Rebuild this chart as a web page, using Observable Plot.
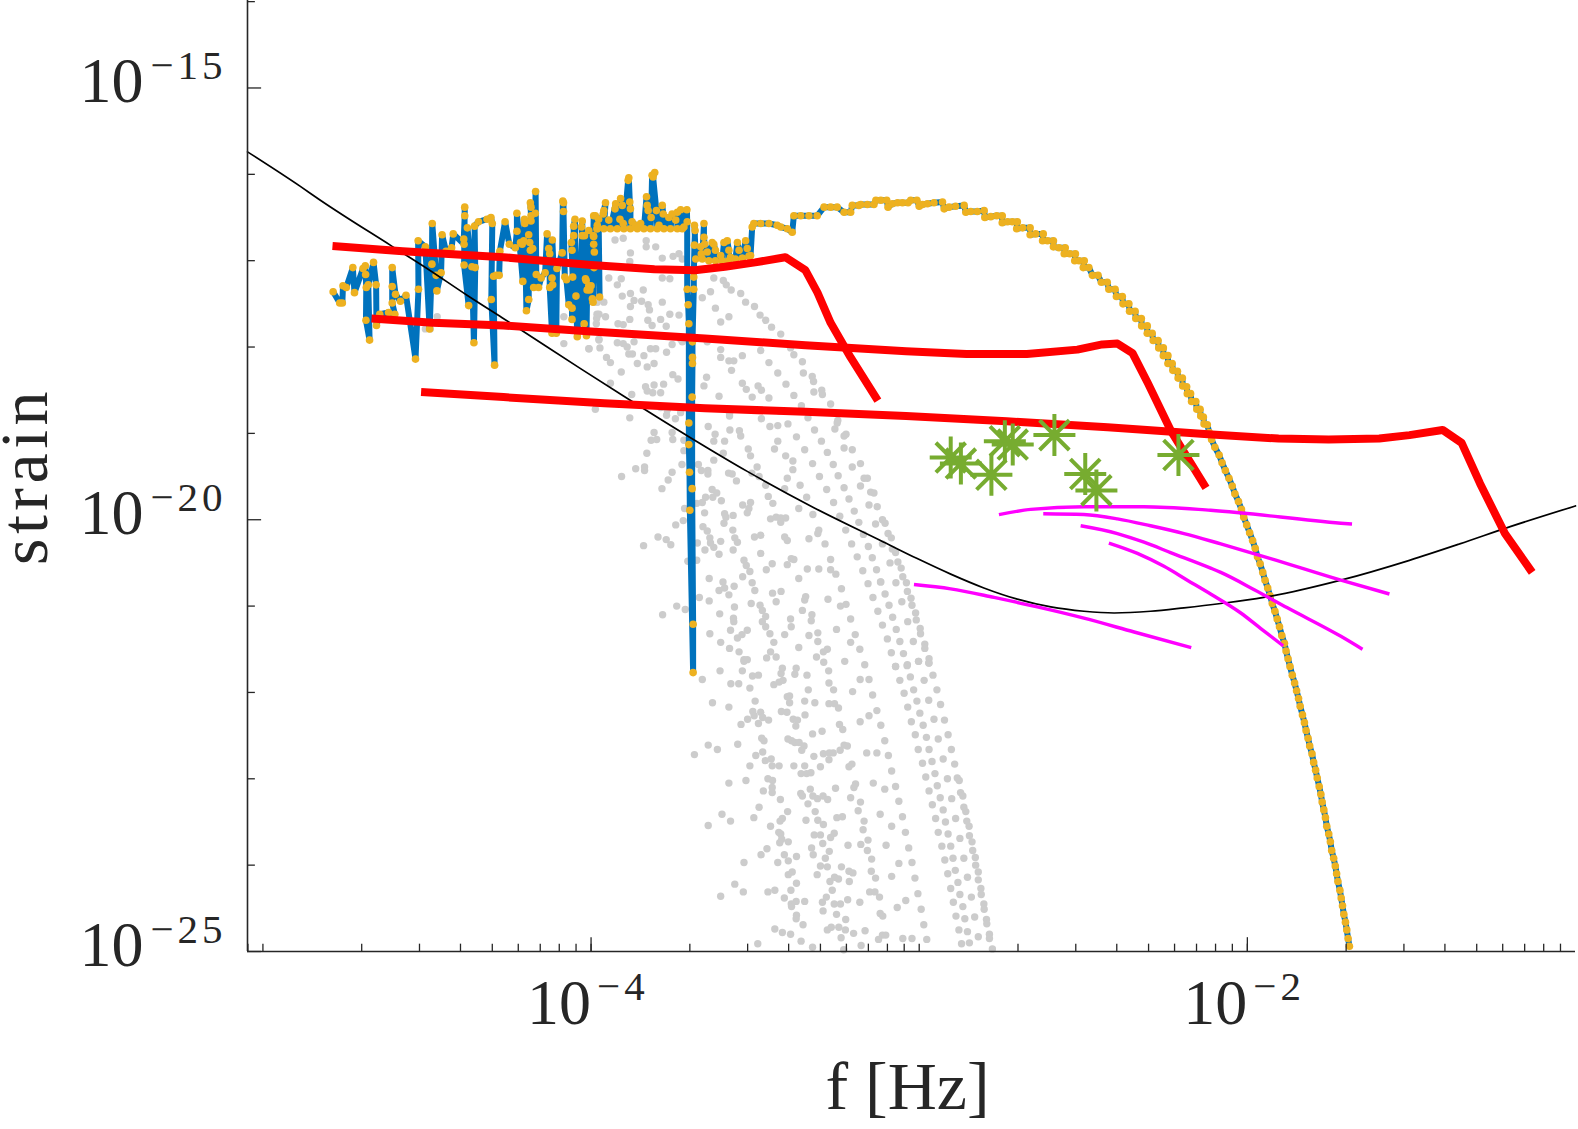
<!DOCTYPE html>
<html lang="en">
<head>
<meta charset="UTF-8">
<title>strain vs frequency</title>
<script src="https://d3js.org/d3.v7.min.js"></script>
<script src="https://cdn.jsdelivr.net/npm/@observablehq/plot@0.6"></script>
<style>
  html, body { margin: 0; background: #fff; overflow: hidden; }
  svg { display: block; }
  svg text { font-family: "Liberation Serif", "Times New Roman", serif !important; }
  .exponent { letter-spacing: 4px; }
  .ylabel { letter-spacing: 4.5px; }
</style>
</head>
<body>
<div id="chart"></div>
<script>
// all values are log10(f [Hz]), log10(strain)
const xDomainLog = [-5.047, -1];
const yDomainLog = [-25, -13.987];
const xLabelled = [-4, -2];
const yLabelled = [-15, -20, -25];
const yMinorLog = [-14, -16, -17, -18, -19, -21, -22, -23, -24];
const xMinorMantissa = [1, 2, 3, 4, 5, 6, 7, 8, 9];
const xMinorDecades = [-6, -5, -4, -3, -2];
const xAxisTitle = "f [Hz]";
const yAxisTitle = "strain";

const blackCurve = [[-5.047,-15.74],[-4.886,-16.14],[-4.825,-16.3],[-4.612,-16.82],[-4.5,-17.09],[-4.378,-17.4],[-4.271,-17.66],[-4.226,-17.77],[-4.032,-18.25],[-3.9,-18.57],[-3.697,-19.05],[-3.524,-19.44],[-3.321,-19.86],[-3.118,-20.24],[-3.006,-20.45],[-2.904,-20.63],[-2.803,-20.79],[-2.701,-20.92],[-2.599,-21.01],[-2.498,-21.06],[-2.406,-21.08],[-2.295,-21.06],[-2.193,-21.02],[-2.081,-20.97],[-1.95,-20.9],[-1.715,-20.7],[-1.506,-20.47],[-1.353,-20.28],[-1.199,-20.08],[-1,-19.84]];

const redTrackA = [[-4.788,-16.83],[-4.574,-16.89],[-4.267,-16.96],[-4,-17.05],[-3.807,-17.1],[-3.684,-17.11],[-3.592,-17.07],[-3.5,-17.02],[-3.408,-16.96],[-3.347,-17.11],[-3.31,-17.37],[-3.27,-17.72],[-3.209,-18.12],[-3.126,-18.62]];
const redTrackB = [[-4.669,-17.67],[-4.482,-17.72],[-4.267,-17.75],[-4,-17.82],[-3.653,-17.9],[-3.347,-17.98],[-3.04,-18.05],[-2.856,-18.08],[-2.672,-18.08],[-2.518,-18.03],[-2.442,-17.97],[-2.396,-17.96],[-2.35,-18.07],[-2.303,-18.42],[-2.233,-18.97],[-2.126,-19.63]];
const redTrackC = [[-4.518,-18.52],[-4.267,-18.58],[-3.96,-18.65],[-3.653,-18.71],[-3.347,-18.75],[-3.04,-18.8],[-2.733,-18.86],[-2.426,-18.93],[-2.12,-19.01],[-1.905,-19.06],[-1.752,-19.07],[-1.598,-19.06],[-1.506,-19.02],[-1.405,-18.96],[-1.347,-19.11],[-1.291,-19.58],[-1.215,-20.16],[-1.132,-20.61]];

const magentaA = [[-3.016,-20.75],[-2.904,-20.8],[-2.772,-20.9],[-2.64,-21.01],[-2.498,-21.14],[-2.345,-21.3],[-2.171,-21.48]];
const magentaB = [[-2.757,-19.94],[-2.66,-19.88],[-2.498,-19.85],[-2.315,-19.85],[-2.112,-19.89],[-1.715,-20.04],[-1.681,-20.05]];
const magentaC = [[-2.622,-19.93],[-2.498,-19.94],[-2.396,-19.99],[-2.295,-20.07],[-2.193,-20.16],[-2.081,-20.28],[-1.929,-20.45],[-1.715,-20.7],[-1.567,-20.86]];
const magentaD = [[-2.508,-20.07],[-2.396,-20.16],[-2.315,-20.26],[-2.234,-20.38],[-2.112,-20.56],[-2.081,-20.61],[-1.979,-20.81],[-1.878,-21.02],[-1.715,-21.35],[-1.649,-21.5]];
const magentaE = [[-2.422,-20.27],[-2.335,-20.39],[-2.254,-20.54],[-2.183,-20.7],[-2.112,-20.86],[-2.02,-21.08],[-1.959,-21.26],[-1.891,-21.46]];

const greenStars = [[-2.904,-19.28],[-2.873,-19.35],[-2.78,-19.48],[-2.739,-19.09],[-2.715,-19.13],[-2.588,-19.02],[-2.494,-19.47],[-2.46,-19.66],[-2.21,-19.25]];

const noisyLow = [[-4.786,-17.36],[-4.766,-17.49],[-4.758,-17.49],[-4.756,-17.29],[-4.746,-17.31],[-4.726,-17.08],[-4.721,-17.37],[-4.695,-17.09],[-4.688,-17.06],[-4.687,-17.16],[-4.685,-17.31],[-4.686,-17.69],[-4.675,-17.92],[-4.679,-17.28],[-4.663,-17.02],[-4.655,-17.28],[-4.654,-17.75],[-4.644,-17.62],[-4.617,-17.6],[-4.598,-17.62],[-4.606,-17.49],[-4.606,-17.3],[-4.606,-17.08],[-4.596,-17.39],[-4.581,-17.47],[-4.564,-17.4],[-4.535,-18.14],[-4.526,-17.33],[-4.527,-16.77],[-4.505,-16.84],[-4.492,-17.79],[-4.485,-17.04],[-4.484,-16.57],[-4.472,-17.17],[-4.47,-17.35],[-4.457,-17.14],[-4.454,-16.7],[-4.442,-16.89],[-4.425,-16.85],[-4.42,-16.69],[-4.387,-16.81],[-4.388,-16.75],[-4.385,-16.48],[-4.385,-16.38],[-4.387,-17.05],[-4.373,-17.52],[-4.377,-16.62],[-4.363,-17.07],[-4.357,-17.95],[-4.353,-17.08],[-4.355,-16.6],[-4.343,-16.55],[-4.317,-16.52],[-4.305,-16.5],[-4.301,-16.57],[-4.304,-17.45],[-4.294,-18.21],[-4.297,-17.18],[-4.289,-17.17],[-4.28,-17.17],[-4.278,-16.89],[-4.262,-16.55],[-4.249,-16.81],[-4.231,-16.85],[-4.226,-16.66],[-4.226,-16.45],[-4.208,-17.24],[-4.215,-16.79],[-4.21,-16.81],[-4.205,-16.77],[-4.203,-16.52],[-4.202,-16.57],[-4.197,-17.58],[-4.19,-17.45],[-4.19,-16.7],[-4.187,-16.79],[-4.185,-16.88],[-4.183,-16.54],[-4.183,-16.48],[-4.185,-16.33],[-4.183,-16.38],[-4.178,-16.86],[-4.175,-17.31],[-4.17,-16.45],[-4.169,-16.2],[-4.167,-17.16],[-4.16,-17.31],[-4.152,-17.2],[-4.14,-17.14],[-4.134,-16.69],[-4.129,-16.86],[-4.126,-16.92],[-4.126,-17.31],[-4.119,-17.84],[-4.117,-17.28],[-4.119,-17.2],[-4.118,-16.76],[-4.106,-17.84],[-4.104,-17.09],[-4.088,-16.91],[-4.086,-16.31],[-4.084,-16.33],[-4.084,-16.43],[-4.08,-17.19],[-4.075,-17.22],[-4.068,-17.51],[-4.058,-17.55],[-4.058,-17.68],[-4.056,-17.19],[-4.06,-16.79],[-4.058,-16.88],[-4.053,-16.71],[-4.053,-16.6],[-4.049,-16.52],[-4.046,-17.41],[-4.042,-17.88],[-4.027,-16.71],[-4.029,-16.61],[-4.027,-16.54],[-4.021,-17.73],[-4.02,-16.71],[-4.017,-17.21],[-4.015,-17.23],[-4.014,-17.87],[-4.012,-17.34],[-4.007,-16.65],[-4.007,-17.29],[-4.005,-17.33],[-4.004,-17.34],[-4,-17.29],[-3.996,-17.44],[-3.994,-17.48],[-3.993,-16.71],[-3.992,-16.48],[-3.992,-16.72],[-3.992,-16.81],[-3.991,-17.08],[-3.99,-16.9],[-3.987,-16.48],[-3.982,-16.63],[-3.977,-16.52],[-3.974,-17.42]];
const plateauHigh = [[-3.981,-16.59],[-3.981,-16.63],[-3.963,-16.46],[-3.961,-16.42],[-3.956,-16.33],[-3.961,-16.63],[-3.946,-16.53],[-3.941,-16.63],[-3.925,-16.34],[-3.927,-16.4],[-3.92,-16.63],[-3.912,-16.52],[-3.91,-16.28],[-3.905,-16.36],[-3.902,-16.57],[-3.9,-16.63],[-3.887,-16.07],[-3.885,-16.04],[-3.882,-16.32],[-3.88,-16.4],[-3.88,-16.63],[-3.875,-16.55],[-3.864,-16.59],[-3.859,-16.63],[-3.849,-16.57],[-3.839,-16.63],[-3.831,-16.26],[-3.829,-16.36],[-3.826,-16.42],[-3.819,-16.63],[-3.817,-16.5],[-3.814,-16.01],[-3.806,-15.98],[-3.811,-16.03],[-3.801,-16.42],[-3.798,-16.63],[-3.793,-16.59],[-3.783,-16.36],[-3.78,-16.46],[-3.778,-16.63],[-3.763,-16.5],[-3.758,-16.63],[-3.753,-16.46],[-3.742,-16.53],[-3.737,-16.44],[-3.737,-16.63],[-3.727,-16.41],[-3.722,-16.63],[-3.717,-16.61],[-3.708,-16.41],[-3.707,-16.55]];
const spikePoints = [[-3.707,-17.33],[-3.704,-17.51],[-3.702,-17.73],[-3.702,-18.88],[-3.702,-19.13],[-3.7,-19.45],[-3.699,-19.89],[-3.689,-21.77],[-3.689,-21.21],[-3.692,-19.64],[-3.692,-18.58],[-3.691,-18.19],[-3.691,-18.12],[-3.691,-17.94],[-3.687,-17.33],[-3.687,-17.19],[-3.685,-16.82],[-3.683,-16.65],[-3.685,-16.59]];
const plateauLow = [[-3.681,-16.98],[-3.666,-16.84],[-3.664,-16.92],[-3.661,-16.98],[-3.656,-16.57],[-3.656,-16.73],[-3.654,-16.81],[-3.646,-16.9],[-3.641,-17],[-3.631,-16.79],[-3.626,-16.81],[-3.621,-16.88],[-3.621,-17],[-3.605,-16.94],[-3.6,-17],[-3.595,-16.79],[-3.585,-16.77],[-3.58,-16.88],[-3.58,-17],[-3.575,-16.96],[-3.56,-16.98],[-3.554,-16.79],[-3.549,-16.88],[-3.539,-16.97],[-3.529,-16.77],[-3.524,-16.86],[-3.519,-16.95],[-3.514,-16.94]];
const stairs = [[-3.509,-16.61],[-3.504,-16.57],[-3.483,-16.57],[-3.458,-16.57],[-3.433,-16.59],[-3.422,-16.61],[-3.402,-16.63],[-3.387,-16.67],[-3.382,-16.48],[-3.361,-16.48],[-3.336,-16.48],[-3.311,-16.48],[-3.29,-16.38],[-3.27,-16.38],[-3.25,-16.38],[-3.229,-16.44],[-3.209,-16.44],[-3.204,-16.36],[-3.184,-16.36],[-3.178,-16.35],[-3.158,-16.35],[-3.138,-16.35],[-3.132,-16.3],[-3.117,-16.3],[-3.099,-16.3],[-3.095,-16.38],[-3.082,-16.34],[-3.066,-16.33],[-3.051,-16.33],[-3.034,-16.33],[-3.026,-16.3],[-3.007,-16.3],[-3,-16.37],[-2.99,-16.35],[-2.975,-16.34],[-2.955,-16.33],[-2.929,-16.32],[-2.924,-16.4],[-2.909,-16.38],[-2.889,-16.37],[-2.863,-16.36],[-2.858,-16.44],[-2.843,-16.43],[-2.823,-16.43],[-2.802,-16.42],[-2.8,-16.5],[-2.782,-16.49],[-2.764,-16.48],[-2.747,-16.48],[-2.747,-16.56],[-2.731,-16.55],[-2.716,-16.55],[-2.701,-16.55],[-2.703,-16.63],[-2.685,-16.62],[-2.662,-16.62],[-2.662,-16.7],[-2.645,-16.69],[-2.622,-16.69],[-2.624,-16.77],[-2.609,-16.77],[-2.591,-16.77],[-2.591,-16.84],[-2.574,-16.85],[-2.555,-16.85],[-2.558,-16.92],[-2.541,-16.92],[-2.524,-16.92],[-2.526,-17],[-2.513,-17],[-2.497,-17]];
const falloff = [[-2.5,-17.08],[-2.483,-17.08],[-2.472,-17.17],[-2.455,-17.17],[-2.445,-17.25],[-2.427,-17.25],[-2.422,-17.33],[-2.403,-17.33],[-2.399,-17.415],[-2.381,-17.415],[-2.379,-17.5],[-2.361,-17.5],[-2.359,-17.585],[-2.342,-17.585],[-2.34,-17.67],[-2.323,-17.67],[-2.322,-17.755],[-2.305,-17.755],[-2.305,-17.84],[-2.29,-17.84],[-2.287,-17.925],[-2.272,-17.925],[-2.27,-18.01],[-2.256,-18.01],[-2.256,-18.1],[-2.242,-18.1],[-2.242,-18.19],[-2.229,-18.19],[-2.227,-18.27],[-2.213,-18.28],[-2.211,-18.36],[-2.198,-18.36],[-2.197,-18.45],[-2.185,-18.46],[-2.183,-18.54],[-2.173,-18.54],[-2.17,-18.63],[-2.157,-18.63],[-2.154,-18.72],[-2.144,-18.72],[-2.142,-18.8],[-2.134,-18.81],[-2.132,-18.89],[-2.122,-18.9],[-2.116,-18.99],[-2.109,-19.07],[-2.099,-19.16],[-2.086,-19.25],[-2.077,-19.34],[-2.067,-19.43],[-2.056,-19.52],[-2.046,-19.61],[-2.038,-19.7],[-2.027,-19.79],[-2.018,-19.88],[-2.011,-19.97],[-2.002,-20.06],[-1.993,-20.15],[-1.984,-20.24],[-1.976,-20.33],[-1.969,-20.43],[-1.961,-20.51],[-1.953,-20.61],[-1.946,-20.7],[-1.938,-20.79],[-1.931,-20.88],[-1.924,-20.97],[-1.916,-21.06],[-1.909,-21.15],[-1.902,-21.24],[-1.895,-21.34],[-1.887,-21.43],[-1.882,-21.52],[-1.876,-21.61],[-1.87,-21.7],[-1.863,-21.8],[-1.856,-21.89],[-1.85,-21.98],[-1.844,-22.07],[-1.839,-22.16],[-1.832,-22.26],[-1.826,-22.35],[-1.821,-22.44],[-1.815,-22.53],[-1.81,-22.62],[-1.803,-22.71],[-1.798,-22.81],[-1.792,-22.9],[-1.787,-22.99],[-1.781,-23.09],[-1.776,-23.18],[-1.772,-23.27],[-1.767,-23.36],[-1.762,-23.45],[-1.758,-23.55],[-1.752,-23.64],[-1.747,-23.73],[-1.743,-23.83],[-1.737,-23.92],[-1.732,-24.01],[-1.728,-24.1],[-1.724,-24.19],[-1.718,-24.29],[-1.714,-24.38],[-1.71,-24.47],[-1.706,-24.57],[-1.701,-24.66],[-1.697,-24.75],[-1.693,-24.85],[-1.689,-24.94]];

const greyUpper = [[-3.927,-16.76],[-3.902,-16.74],[-3.832,-16.77],[-3.832,-16.84],[-3.803,-16.84],[-3.88,-16.91],[-3.783,-16.97],[-3.75,-16.95],[-3.732,-16.92],[-3.722,-16.98],[-3.882,-17.01],[-3.946,-17.2],[-3.908,-17.21],[-3.92,-17.28],[-3.783,-17.2],[-3.76,-17.21],[-3.841,-17.34],[-3.88,-17.38],[-3.905,-17.41],[-3.981,-17.36],[-3.961,-17.48],[-3.981,-17.48],[-3.783,-17.48],[-3.869,-17.46],[-3.846,-17.47],[-3.88,-17.53],[-3.826,-17.51],[-3.822,-17.57],[-3.976,-17.62],[-3.956,-17.65],[-3.983,-17.67],[-3.882,-17.68],[-3.76,-17.62],[-3.732,-17.63],[-3.788,-17.68],[-3.827,-17.69],[-3.814,-17.75],[-3.771,-17.76],[-3.902,-17.74],[-3.918,-17.73],[-3.626,-17.2],[-3.597,-17.23],[-3.588,-17.28],[-3.573,-17.34],[-3.544,-17.38],[-3.529,-17.48],[-3.502,-17.53],[-3.485,-17.63],[-3.468,-17.69],[-3.45,-17.77],[-3.422,-17.85],[-3.636,-17.36],[-3.661,-17.43],[-3.621,-17.55],[-3.605,-17.71],[-3.58,-17.65],[-3.646,-17.94],[-3.605,-18.03],[-3.605,-18.12],[-3.483,-18.04],[-3.392,-18.01],[-3.382,-18.09],[-3.539,-18.1],[-3.565,-18.16],[-3.58,-18.16],[-3.458,-18.18],[-3.356,-18.17],[-4.007,-18.02],[-3.976,-17.91],[-3.973,-18.01],[-3.953,-18.12],[-3.941,-18.18],[-3.92,-17.95],[-3.902,-17.96],[-3.89,-18],[-3.869,-17.94],[-3.874,-18.08],[-3.885,-18.08],[-3.839,-18.1],[-3.819,-18.02],[-3.803,-18.02],[-3.77,-18.06],[-3.753,-17.97],[-3.722,-17.94],[-3.727,-17.91],[-3.859,-18.19],[-3.829,-18.23],[-3.808,-18.19],[-4.083,-17.65],[-4.083,-17.96],[-3.984,-17.36],[-3.984,-17.48],[-3.982,-17.62],[-3.984,-17.73],[-3.976,-17.92],[-4.006,-18.02],[-4.469,-17.65],[-4.505,-17.79],[-4.49,-17.79]];
const greyMiddle = [[-3.908,-18.29],[-3.751,-18.32],[-3.735,-18.37],[-3.941,-18.42],[-3.834,-18.46],[-3.808,-18.44],[-3.779,-18.43],[-3.829,-18.51],[-3.812,-18.53],[-3.788,-18.53],[-3.876,-18.55],[-3.987,-18.72],[-3.656,-18.45],[-3.648,-18.35],[-3.572,-18.27],[-3.539,-18.42],[-3.527,-18.49],[-3.491,-18.45],[-3.481,-18.5],[-3.509,-18.58],[-3.458,-18.59],[-3.61,-18.57],[-3.431,-18.3],[-3.406,-18.43],[-3.382,-18.56],[-3.353,-18.3],[-3.326,-18.34],[-3.322,-18.4],[-3.321,-18.52],[-3.297,-18.5],[-3.295,-18.55],[-3.27,-18.66],[-3.359,-18.68],[-3.768,-18.73],[-3.788,-18.7],[-3.727,-18.76],[-3.77,-18.79],[-3.743,-18.83],[-3.882,-18.82],[-3.578,-18.77],[-3.578,-18.8],[-3.481,-18.83],[-3.427,-18.74],[-3.339,-18.82],[-3.248,-18.85],[-3.25,-18.88],[-3.808,-18.99],[-3.753,-18.99],[-3.817,-19.08],[-3.8,-19.07],[-3.751,-19.07],[-3.717,-19.08],[-3.643,-18.92],[-3.622,-19.01],[-3.626,-19.09],[-3.577,-18.96],[-3.548,-18.97],[-3.544,-19.03],[-3.593,-19.09],[-3.455,-18.92],[-3.431,-18.91],[-3.4,-18.89],[-3.319,-18.96],[-3.257,-18.95],[-3.223,-19.01],[-3.229,-19.03],[-3.431,-19.09],[-3.374,-19.04],[-3.298,-19.09],[-3.83,-19.23],[-3.717,-19.2],[-3.597,-19.23],[-3.521,-19.18],[-3.514,-19.26],[-3.441,-19.18],[-3.349,-19.19],[-3.28,-19.22],[-3.229,-19.17],[-3.204,-19.19],[-3.407,-19.26],[-3.626,-19.31],[-3.385,-19.32],[-3.325,-19.35],[-3.262,-19.36],[-3.179,-19.35],[-3.204,-19.39],[-3.723,-19.36],[-3.753,-19.45],[-3.765,-19.54],[-3.864,-19.41],[-3.837,-19.39],[-3.837,-19.43],[-3.907,-19.5],[-3.673,-19.36],[-3.664,-19.43],[-3.644,-19.43],[-3.644,-19.47],[-3.581,-19.46],[-3.57,-19.47],[-3.494,-19.39],[-3.385,-19.42],[-3.51,-19.46],[-3.488,-19.5],[-3.304,-19.5],[-3.247,-19.49],[-3.402,-19.52],[-3.557,-19.55],[-3.168,-19.52],[-3.158,-19.52],[-3.784,-19.64],[-3.468,-19.6],[-3.363,-19.6],[-3.282,-19.65],[-3.229,-19.63],[-3.179,-19.61],[-3.631,-19.65],[-3.617,-19.69],[-3.629,-19.74],[-3.651,-19.74],[-3.661,-19.8],[-3.603,-19.78],[-3.41,-19.64],[-3.46,-19.73],[-3.343,-19.74],[-3.148,-19.68],[-3.138,-19.69],[-3.214,-19.76],[-3.678,-19.81],[-3.538,-19.83],[-3.514,-19.8],[-3.446,-19.81],[-3.519,-19.87],[-3.261,-19.8],[-3.367,-19.87],[-3.153,-19.83],[-3.128,-19.85],[-3.715,-19.87],[-3.654,-19.92],[-3.593,-19.93],[-3.589,-19.97],[-3.567,-19.95],[-3.524,-19.92],[-3.198,-19.9],[-3.324,-19.94],[-3.242,-19.96],[-3.453,-19.99],[-3.436,-19.97],[-3.422,-19.98],[-3.407,-19.98],[-3.422,-20.03],[-3.742,-20.06],[-3.719,-20.01],[-3.595,-20.04],[-3.184,-20.03],[-3.133,-20.05],[-3.659,-20.08],[-3.646,-20.13],[-3.568,-20.12],[-3.224,-20.12],[-3.306,-20.12],[-3.309,-20.16],[-3.796,-20.2],[-3.771,-20.23],[-3.757,-20.29],[-3.84,-20.3],[-3.638,-20.21],[-3.636,-20.27],[-3.605,-20.25],[-3.562,-20.21],[-3.554,-20.26],[-3.502,-20.2],[-3.483,-20.18],[-3.41,-20.2],[-3.402,-20.24],[-3.336,-20.22],[-3.17,-20.17],[-3.206,-20.28],[-3.287,-20.28],[-3.155,-20.31],[-3.676,-20.27],[-3.653,-20.35],[-3.626,-20.32],[-3.61,-20.4],[-3.567,-20.35],[-3.483,-20.39],[-3.705,-20.48],[-3.678,-20.47],[-3.534,-20.47],[-3.527,-20.53],[-3.448,-20.51],[-3.39,-20.45],[-3.382,-20.46],[-3.402,-20.52],[-3.27,-20.46],[-3.189,-20.43],[-3.143,-20.44],[-3.516,-20.6],[-3.466,-20.58],[-3.341,-20.57],[-3.306,-20.57],[-3.27,-20.58],[-3.254,-20.63],[-3.172,-20.59],[-3.13,-20.58],[-3.538,-20.66],[-3.64,-20.68],[-3.367,-20.68],[-3.156,-20.74],[-3.118,-20.72],[-3.598,-20.72],[-3.564,-20.77],[-3.509,-20.73],[-3.61,-20.82],[-3.593,-20.79],[-3.501,-20.82],[-3.447,-20.85],[-3.421,-20.83],[-3.237,-20.8],[-3.58,-20.87],[-3.346,-20.89],[-3.349,-20.93],[-3.67,-20.9],[-3.64,-20.94],[-3.436,-20.95],[-3.278,-20.92],[-3.141,-20.9],[-3.739,-21],[-3.713,-21.04],[-3.782,-21.1],[-3.563,-21.01],[-3.512,-20.97],[-3.485,-20.99],[-3.478,-21.05],[-3.24,-21],[-3.223,-20.98],[-3.356,-21.05],[-3.126,-21.06],[-3.608,-21.09],[-3.327,-21.1],[-3.468,-21.12],[-3.566,-21.14],[-3.392,-21.15],[-3.478,-21.18],[-3.565,-21.18],[-3.329,-21.17],[-3.209,-21.15],[-3.468,-21.24],[-3.39,-21.24],[-3.575,-21.28],[-3.524,-21.28],[-3.252,-21.27],[-3.638,-21.32],[-3.554,-21.37],[-3.54,-21.33],[-3.455,-21.32],[-3.41,-21.33],[-3.336,-21.34],[-3.309,-21.31],[-3.195,-21.33],[-3.605,-21.42],[-3.309,-21.41],[-3.209,-21.42],[-3.578,-21.49],[-3.443,-21.42],[-3.453,-21.53],[-3.549,-21.53],[-3.367,-21.48],[-3.28,-21.5],[-3.292,-21.53],[-3.181,-21.5],[-3.534,-21.62],[-3.524,-21.62],[-3.465,-21.6],[-3.436,-21.59],[-3.313,-21.59]];
const greyRightEdge = [[-3.112,-20],[-3.104,-20.04],[-3.095,-20.16],[-3.085,-20.21],[-3.082,-20.34],[-3.072,-20.38],[-3.089,-20.5],[-3.065,-20.49],[-3.055,-20.56],[-3.071,-20.73],[-3.05,-20.66],[-3.039,-20.73],[-3.036,-20.83],[-3.025,-20.91],[-3.053,-20.95],[-3.022,-20.99],[-3.092,-20.99],[-3.011,-21.08],[-3.009,-21.16],[-3.035,-21.18],[-3.081,-21.13],[-2.997,-21.26],[-2.996,-21.32],[-3.07,-21.27],[-3.097,-21.38],[-3.059,-21.41],[-3.018,-21.41],[-2.983,-21.44],[-2.983,-21.49],[-3.085,-21.54],[-3.048,-21.55],[-3.002,-21.64],[-2.97,-21.61],[-2.97,-21.66],[-3.072,-21.7],[-3.037,-21.69],[-3.112,-20.28],[-3.104,-20.86],[-3.117,-20.72],[-3.112,-21.22]];
const greyLower = [[-3.607,-21.75],[-3.539,-21.75],[-3.508,-21.81],[-3.49,-21.8],[-3.661,-21.85],[-3.574,-21.9],[-3.55,-21.9],[-3.516,-21.95],[-3.443,-21.91],[-3.427,-21.88],[-3.415,-21.86],[-3.421,-21.78],[-3.417,-21.72],[-3.375,-21.72],[-3.379,-21.79],[-3.342,-21.8],[-3.276,-21.75],[-3.291,-21.65],[-3.227,-21.64],[-3.166,-21.68],[-3.072,-21.7],[-3.036,-21.68],[-3.002,-21.64],[-2.971,-21.66],[-3.534,-21.64],[-3.18,-21.85],[-3.153,-21.85],[-3.059,-21.86],[-3.027,-21.82],[-2.985,-21.86],[-2.958,-21.8],[-3.275,-21.89],[-3.261,-21.97],[-3.338,-21.97],[-3.203,-21.99],[-3.142,-22.03],[-3.046,-22.01],[-3.017,-21.97],[-2.946,-21.97],[-3.395,-22.04],[-3.402,-22.05],[-3.5,-22.1],[-3.63,-22.12],[-3.58,-22.17],[-3.395,-22.12],[-3.349,-22.1],[-3.318,-22.12],[-3.275,-22.13],[-3.258,-22.13],[-3.246,-22.18],[-3.007,-22.1],[-2.971,-22.09],[-2.935,-22.14],[-3.035,-22.17],[-3.129,-22.21],[-3.507,-22.22],[-3.483,-22.23],[-3.503,-22.27],[-3.477,-22.29],[-3.459,-22.32],[-3.523,-22.31],[-3.543,-22.37],[-3.49,-22.36],[-3.42,-22.22],[-3.403,-22.23],[-3.348,-22.26],[-3.384,-22.31],[-3.371,-22.32],[-3.376,-22.39],[-3.153,-22.27],[-3.18,-22.34],[-3.117,-22.38],[-2.998,-22.24],[-3.024,-22.34],[-2.988,-22.38],[-2.955,-22.31],[-2.923,-22.32],[-3.243,-22.37],[-3.233,-22.43],[-3.325,-22.48],[-3.296,-22.45],[-3.012,-22.49],[-2.978,-22.52],[-2.942,-22.54],[-2.912,-22.49],[-3.48,-22.53],[-3.473,-22.56],[-3.4,-22.54],[-3.389,-22.56],[-3.379,-22.58],[-3.366,-22.58],[-3.351,-22.62],[-3.358,-22.67],[-3.105,-22.56],[-3.643,-22.61],[-3.553,-22.6],[-3.615,-22.66],[-3.229,-22.61],[-3.219,-22.62],[-3.241,-22.67],[-3.003,-22.66],[-2.97,-22.66],[-2.902,-22.66],[-3.477,-22.69],[-3.498,-22.73],[-3.685,-22.72],[-3.469,-22.79],[-3.451,-22.77],[-3.321,-22.74],[-3.292,-22.71],[-3.274,-22.7],[-3.262,-22.7],[-3.16,-22.7],[-3.129,-22.7],[-3.094,-22.73],[-3.275,-22.78],[-2.927,-22.77],[-2.99,-22.82],[-2.961,-22.8],[-2.892,-22.83],[-3.516,-22.85],[-3.448,-22.85],[-3.427,-22.85],[-3.382,-22.85],[-3.349,-22.85],[-3.301,-22.86],[-3.214,-22.86],[-3.205,-22.83],[-3.084,-22.91],[-3.36,-22.94],[-3.343,-22.94],[-3.33,-22.93],[-2.98,-22.98],[-2.952,-22.94],[-2.914,-23],[-2.884,-22.99],[-2.878,-23.02],[-3.58,-23.05],[-3.528,-23.02],[-3.461,-23],[-3.447,-23.02],[-3.14,-23.05],[-3.072,-23.09],[-2.945,-23.08],[-3.194,-23.06],[-3.199,-23.1],[-3.475,-23.14],[-3.448,-23.1],[-3.448,-23.16],[-3.332,-23.12],[-3.255,-23.11],[-3.105,-23.12],[-2.97,-23.14],[-3.361,-23.17],[-3.356,-23.2],[-3.324,-23.2],[-3.31,-23.23],[-3.293,-23.2],[-3.279,-23.24],[-3.423,-23.24],[-3.209,-23.22],[-2.874,-23.16],[-2.867,-23.2],[-2.936,-23.22],[-2.901,-23.23],[-3.179,-23.27],[-3.062,-23.26],[-2.96,-23.3],[-3.488,-23.33],[-3.339,-23.29],[-2.864,-23.33],[-2.858,-23.38],[-2.927,-23.36],[-3.186,-23.37],[-3.401,-23.38],[-3.317,-23.38],[-3.601,-23.41],[-3.119,-23.41],[-2.889,-23.46],[-2.95,-23.46],[-3.051,-23.44],[-3.504,-23.45],[-3.575,-23.49],[-3.417,-23.46],[-3.424,-23.49],[-3.345,-23.48],[-3.309,-23.48],[-3.251,-23.45],[-3.234,-23.44],[-2.92,-23.5],[-2.855,-23.49],[-2.848,-23.55],[-3.168,-23.49],[-3.292,-23.53],[-3.643,-23.54],[-3.453,-23.55],[-3.084,-23.55],[-3.171,-23.59],[-3.428,-23.62],[-3.422,-23.64],[-3.042,-23.62],[-2.942,-23.62],[-2.912,-23.64],[-2.847,-23.66],[-2.876,-23.69],[-3.32,-23.65],[-3.301,-23.65],[-3.259,-23.63],[-3.27,-23.68],[-3.399,-23.73],[-3.425,-23.74],[-3.419,-23.7],[-2.839,-23.73],[-3.156,-23.71],[-3.294,-23.75],[-3.217,-23.77],[-3.178,-23.76],[-3.101,-23.77],[-3.032,-23.8],[-2.931,-23.78],[-2.904,-23.78],[-3.328,-23.8],[-3.464,-23.81],[-3.482,-23.88],[-3.158,-23.83],[-3.274,-23.84],[-3.323,-23.88],[-3.411,-23.88],[-3.374,-23.9],[-2.837,-23.83],[-2.829,-23.91],[-2.864,-23.92],[-2.897,-23.92],[-2.922,-23.94],[-3.145,-23.93],[-3.286,-23.92],[-3.431,-23.97],[-3.399,-23.95],[-3.534,-23.97],[-3.062,-23.98],[-3.022,-23.97],[-2.828,-24],[-3.301,-24.01],[-3.28,-24.02],[-3.237,-24.02],[-3.214,-24.07],[-3.202,-24.09],[-3.387,-24.08],[-3.399,-24.11],[-3.311,-24.11],[-3.146,-24.07],[-2.89,-24.06],[-2.913,-24.1],[-2.82,-24.08],[-3.133,-24.15],[-3.084,-24.13],[-3.013,-24.15],[-2.853,-24.14],[-2.82,-24.17],[-3.272,-24.19],[-3.258,-24.14],[-3.246,-24.16],[-3.213,-24.19],[-3.374,-24.21],[-3.562,-24.22],[-2.882,-24.2],[-2.904,-24.27],[-2.812,-24.27],[-3.536,-24.31],[-3.461,-24.31],[-3.44,-24.29],[-3.391,-24.29],[-3.265,-24.29],[-3.151,-24.31],[-3.135,-24.31],[-3.004,-24.33],[-2.876,-24.34],[-2.811,-24.34],[-3.605,-24.36],[-3.283,-24.37],[-3.121,-24.37],[-3.411,-24.38],[-3.375,-24.42],[-3.349,-24.42],[-3.39,-24.45],[-3.389,-24.48],[-3.295,-24.43],[-3.259,-24.45],[-3.24,-24.45],[-3.218,-24.4],[-3.181,-24.43],[-3.041,-24.41],[-3.067,-24.49],[-2.896,-24.43],[-2.841,-24.37],[-2.803,-24.45],[-2.802,-24.51],[-2.867,-24.48],[-3.293,-24.53],[-2.994,-24.51],[-3.252,-24.57],[-3.119,-24.56],[-3.111,-24.59],[-3.374,-24.58],[-3.375,-24.62],[-3.224,-24.63],[-2.888,-24.59],[-2.861,-24.62],[-2.831,-24.6],[-2.795,-24.63],[-2.794,-24.68],[-2.986,-24.69],[-3.354,-24.69],[-3.44,-24.74],[-3.417,-24.78],[-3.392,-24.8],[-3.28,-24.75],[-3.268,-24.72],[-3.245,-24.72],[-3.225,-24.75],[-3.2,-24.79],[-3.165,-24.76],[-2.879,-24.75],[-2.853,-24.77],[-2.82,-24.83],[-2.786,-24.8],[-2.786,-24.85],[-3.112,-24.81],[-3.102,-24.81],[-3.124,-24.86],[-3.238,-24.84],[-3.05,-24.85],[-3.022,-24.85],[-2.977,-24.86],[-3.36,-24.88],[-3.492,-24.91],[-3.325,-24.95],[-2.871,-24.91],[-2.847,-24.9],[-3.177,-24.93],[-3.23,-24.98],[-2.777,-24.97]];

const ink = "#262626";
const fx = d => 10 ** d[0];
const fy = d => 10 ** d[1];
const xMin = 10 ** xDomainLog[0];
const yMin = 10 ** yDomainLog[0];

const xMinor = xMinorDecades.flatMap(e => xMinorMantissa.map(m => m * 10 ** e))
  .filter(v => v >= xMin && v <= 0.1);
const signalSeries = [...noisyLow, ...plateauHigh, ...spikePoints, ...plateauLow, ...stairs, ...falloff];
const greyPoints = [...greyUpper, ...greyMiddle, ...greyRightEdge, ...greyLower];

// matlab style * marker, plot's asterisk only has 6 arms
const star8 = {
  draw(context, size) {
    const r = Math.sqrt(size / Math.PI);
    for (let i = 0; i < 4; ++i) {
      const a = i * Math.PI / 4;
      context.moveTo(-r * Math.cos(a), -r * Math.sin(a));
      context.lineTo(r * Math.cos(a), r * Math.sin(a));
    }
  }
};

const trackLine = (data, stroke, strokeWidth, opts = {}) =>
  Plot.line(data, {x: fx, y: fy, stroke, strokeWidth, ...opts});

const chart = Plot.plot({
  width: 1578,
  height: 1129,
  marginLeft: 247,
  marginRight: 3,
  marginTop: 0,
  marginBottom: 178,
  style: {background: "#fff"},
  x: {type: "log", domain: xDomainLog.map(e => 10 ** e), axis: null},
  y: {type: "log", domain: yDomainLog.map(e => 10 ** e), axis: null},
  marks: [
    Plot.dot(greyPoints, {x: fx, y: fy, r: 3.7, fill: "#cccccc"}),
    trackLine(signalSeries, "#0072BD", 6, {strokeLinejoin: "round"}),
    Plot.dot(signalSeries, {x: fx, y: fy, r: 3.8, fill: "#EDB120"}),
    trackLine(blackCurve, "#000", 1.7, {curve: "monotone-x"}),
    trackLine(redTrackA, "#ff0000", 8, {strokeLinecap: "butt"}),
    trackLine(redTrackB, "#ff0000", 8, {strokeLinecap: "butt"}),
    trackLine(redTrackC, "#ff0000", 8, {strokeLinecap: "butt"}),
    ...[magentaA, magentaB, magentaC, magentaD, magentaE].map(m => trackLine(m, "#ff00ff", 3.4, {strokeLinecap: "butt", curve: "monotone-x"})),
    Plot.dot(greenStars, {x: fx, y: fy, r: 21, symbol: star8, fill: "none", stroke: "#77AC30", strokeWidth: 4}),

    // axes
    Plot.ruleX([xMin], {stroke: ink, strokeWidth: 1.6}),
    Plot.ruleY([yMin], {stroke: ink, strokeWidth: 1.6}),
    Plot.ruleX(xMinor, {y1: yMin, y2: yMin * 10 ** 0.085, stroke: ink, strokeWidth: 1.3}),
    Plot.ruleX(xLabelled.map(e => 10 ** e), {y1: yMin, y2: yMin * 10 ** 0.16, stroke: ink, strokeWidth: 1.3}),
    Plot.ruleY(yMinorLog.map(e => 10 ** e), {x1: xMin, x2: xMin * 10 ** 0.024, stroke: ink, strokeWidth: 1.3}),
    Plot.ruleY(yLabelled.map(e => 10 ** e), {x1: xMin, x2: xMin * 10 ** 0.043, stroke: ink, strokeWidth: 1.3}),

    Plot.text(yLabelled, {x: xMin, y: e => 10 ** e, text: () => "10", textAnchor: "end", dx: -104, dy: -6, fontSize: 64, fill: ink}),
    Plot.text(yLabelled, {x: xMin, y: e => 10 ** e, text: e => "\u2212" + Math.abs(e), textAnchor: "end", dx: -21, dy: -22, fontSize: 41, fill: ink, className: "exponent"}),
    Plot.text(xLabelled, {x: e => 10 ** e, y: yMin, text: () => "10", textAnchor: "end", dx: 0, dy: 52, fontSize: 64, fill: ink}),
    Plot.text(xLabelled, {x: e => 10 ** e, y: yMin, text: e => "\u2212" + Math.abs(e), textAnchor: "start", dx: 6, dy: 35, fontSize: 41, fill: ink, className: "exponent"}),

    Plot.text([xAxisTitle], {frameAnchor: "bottom", text: d => d, dx: -4, dy: 157, fontSize: 68, fill: ink}),
    Plot.text([yAxisTitle], {frameAnchor: "left", text: d => d, rotate: -90, textAnchor: "middle", dx: -222, fontSize: 68, fill: ink, className: "ylabel"})
  ]
});

document.getElementById("chart").replaceChildren(chart);
</script>
</body>
</html>
